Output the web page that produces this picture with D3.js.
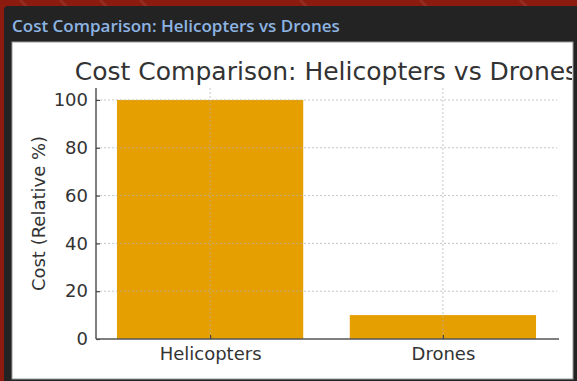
<!DOCTYPE html>
<html>
<head>
<meta charset="utf-8">
<script src="https://cdn.jsdelivr.net/npm/d3@7"></script>
<style>
  html, body { margin: 0; padding: 0; background: #8b1a0f; }
  svg { display: block; }
</style>
</head>
<body>
<svg id="chart" width="577" height="381"></svg>
<script>
// ---- data ----
const categories = ["Helicopters", "Drones"];
const costs = [100, 10];
const yTickValues = [0, 20, 40, 60, 80, 100];
const headerTitle = "Cost Comparison: Helicopters vs Drones";
const chartTitle = "Cost Comparison: Helicopters vs Drones";
const yLabel = "Cost (Relative %)";

(function () {
const svg = d3.select("#chart");
const W = 577, H = 381;

// background
svg.append("rect").attr("width", W).attr("height", H).attr("fill", "#8b1a0f");
const pat = svg.append("g").attr("opacity", 0.08).attr("stroke", "#ffffff").attr("stroke-width", 3);
[20, 60, 100, 140, 300, 420, 520].forEach(x0 => {
  pat.append("line").attr("x1", x0).attr("y1", 0).attr("x2", x0 + 30).attr("y2", 30);
});

// dark panel
svg.append("rect").attr("x", 4).attr("y", 6).attr("width", W).attr("height", H)
  .attr("rx", 4).attr("fill", "#232323");

// header title
svg.append("text").attr("x", 12).attr("y", 32)
  .attr("font-family", "'Open Sans', sans-serif").attr("font-weight", 600)
  .attr("font-size", 17).attr("fill", "#8db4e2").text(headerTitle);

// white card
const card = { x: 12, y: 42, w: 561, h: 337 };
svg.append("rect").attr("x", card.x).attr("y", card.y).attr("width", card.w).attr("height", card.h)
  .attr("fill", "#ffffff").attr("stroke", "#9a9a9a").attr("stroke-width", 1);

const clip = svg.append("defs").append("clipPath").attr("id", "cardclip");
clip.append("rect").attr("x", card.x).attr("y", card.y).attr("width", card.w - 1).attr("height", card.h);

const g = svg.append("g").attr("clip-path", "url(#cardclip)");

// scales
const pLeft = 96, pRight = 557, pTop = 88, pBottom = 339;
const x = d3.scaleLinear().domain([-0.49, 1.49]).range([pLeft, pRight]);
const y = d3.scaleLinear().domain([0, 105]).range([pBottom, pTop]);
const barW = 0.8;
const font = "'DejaVu Sans', sans-serif";
const textColor = "#333333";

// bars
g.append("g").selectAll("rect").data(costs).join("rect")
  .attr("x", (d, i) => x(i - barW / 2))
  .attr("width", (d, i) => x(i + barW / 2) - x(i - barW / 2))
  .attr("y", d => y(d))
  .attr("height", d => y(0) - y(d))
  .attr("fill", "#e69f00");

// grid
const grid = g.append("g").attr("stroke", "#b0b0b0").attr("stroke-width", 1)
  .attr("stroke-dasharray", "2,2").attr("opacity", 0.7);
grid.selectAll(".hg").data(yTickValues.filter(v => v > 0)).join("line")
  .attr("x1", pLeft).attr("x2", pRight)
  .attr("y1", d => y(d)).attr("y2", d => y(d));
grid.selectAll(".vg").data(categories.map((c, i) => i)).join("line")
  .attr("x1", d => x(d)).attr("x2", d => x(d))
  .attr("y1", pTop).attr("y2", pBottom);

// axes
const yAxis = d3.axisLeft(y).tickValues(yTickValues).tickSize(-4).tickPadding(8);
const xAxis = d3.axisBottom(x).tickValues(categories.map((c, i) => i))
  .tickFormat(i => categories[i]).tickSize(-4).tickPadding(8);

const ya = g.append("g").attr("transform", `translate(${pLeft},0)`).call(yAxis);
const xa = g.append("g").attr("transform", `translate(0,${pBottom})`).call(xAxis);
[ya, xa].forEach(a => {
  a.select(".domain").attr("stroke", "#555555").attr("stroke-width", 1.5);
  a.selectAll(".tick line").attr("stroke", "#444444").attr("stroke-width", 1.2);
  a.selectAll(".tick text").attr("font-family", font).attr("font-size", 18).attr("fill", textColor);
});
ya.select(".domain").attr("d", `M0,${pTop}V${pBottom}`);
xa.select(".domain").attr("d", `M${pLeft},0H${pRight + 2}`);

// y label
g.append("text")
  .attr("transform", `translate(45,${(pTop + pBottom) / 2}) rotate(-90)`)
  .attr("text-anchor", "middle")
  .attr("font-family", font).attr("font-size", 18).attr("fill", textColor)
  .text(yLabel);

// chart title
g.append("text")
  .attr("x", (pLeft + pRight) / 2).attr("y", 80)
  .attr("text-anchor", "middle")
  .attr("font-family", font).attr("font-size", 25).attr("fill", textColor)
  .text(chartTitle);
})();
</script>
</body>
</html>
